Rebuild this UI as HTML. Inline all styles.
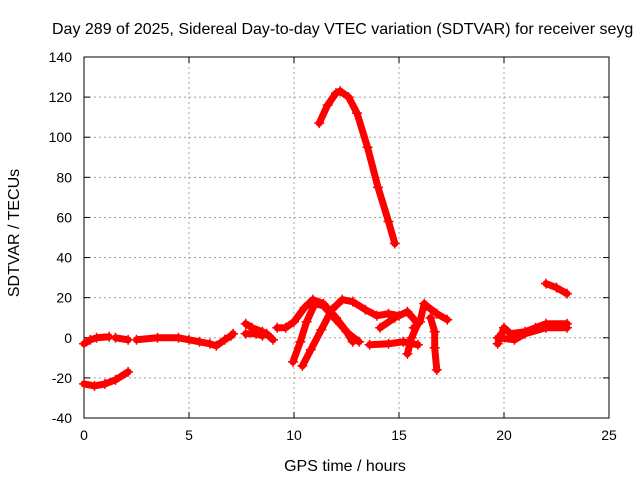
<!DOCTYPE html>
<html><head><meta charset="utf-8">
<style>
body{margin:0;background:#fff}
svg{display:block;font-family:"Liberation Sans",sans-serif}
</style></head><body>
<svg id="chart" width="640" height="480">
<rect width="640" height="480" fill="#fff"/>
<text x="52" y="34" font-size="16">Day 289 of 2025, Sidereal Day-to-day VTEC variation (SDTVAR) for receiver seyg</text>
<g id="grid"></g>
<g id="axes"></g>
<g id="series"></g>
<text x="345" y="471" font-size="16" text-anchor="middle">GPS time / hours</text>
<text transform="translate(19,233) rotate(-90)" font-size="16" text-anchor="middle">SDTVAR / TECUs</text>
</svg>
<script>
const xTicks=[0,5,10,15,20,25];
const yTicks=[-40,-20,0,20,40,60,80,100,120,140];
const s1=[[0,-23],[0.5,-24],[1,-23],[1.5,-21],[2.1,-17]];
const s2=[[0,-3],[0.3,-1],[0.6,0],[1.2,0.5]];
const s3=[[1.5,0],[2.1,-1]];
const s4=[[2.5,-1],[3.5,0],[4.5,0],[5,-1],[5.5,-2],[6,-3],[6.3,-4],[6.7,-1],[7,1],[7.1,2]];
const s5=[[7.7,7],[8,5],[8.5,3],[8.7,2],[9,-1]];
const s6=[[7.7,2],[8.2,2],[8.5,1]];
const s7=[[9.2,5],[9.6,5],[10,8],[10.5,15],[10.9,19],[11.4,17],[12,10],[12.5,3],[12.8,-2]];
const s8=[[9.95,-12],[10.3,-2],[10.6,8],[11,17],[11.4,16],[12,9],[12.6,2],[13.1,-2]];
const s9=[[10.4,-14],[10.8,-6],[11.3,4],[11.8,14],[12.3,19],[12.8,18],[13.4,14],[13.95,11],[14.5,12],[15,11]];
const s10=[[13.6,-3.5],[14.5,-3],[15.2,-2],[15.9,-3.5]];
const s11=[[14.1,5],[14.8,10],[15.4,13],[15.9,7],[15.6,0],[15.4,-8]];
const s12=[[15.7,5],[16,8],[16.2,17]];
const s13=[[16.3,16],[16.8,12],[17.3,9]];
const s14=[[16.5,10],[16.7,3],[16.7,-5],[16.8,-16]];
const s15=[[19.7,-3],[20,5],[20.3,2],[21,3],[21.5,5],[22,7],[23,7]];
const s16=[[19.7,0],[20.5,-1],[21,2],[22,5],[23,5]];
const s17=[[22,27],[22.5,25],[23,22]];
const s18=[[11.2,107],[11.6,116],[12,122],[12.2,123],[12.6,120],[13,112],[13.5,95],[14,75],[14.5,58],[14.8,47]];
const allSeries=[s1,s2,s3,s4,s5,s6,s7,s8,s9,s10,s11,s12,s13,s14,s15,s16,s17,s18];
const NS="http://www.w3.org/2000/svg";
const X0=84,X1=609,Y0=418,Y1=57;
function xs(t){return X0+(t-0)/(25-0)*(X1-X0);}
function ys(v){return Y0-(v+40)/180*(Y0-Y1);}
function mk(tag,attrs,parent){const e=document.createElementNS(NS,tag);for(const k in attrs)e.setAttribute(k,attrs[k]);parent.appendChild(e);return e;}
const grid=document.getElementById('grid'),axes=document.getElementById('axes'),ser=document.getElementById('series');
xTicks.forEach(t=>{
 if(t>0&&t<25){const l=mk('line',{x1:xs(t),x2:xs(t),y1:Y1,y2:Y0,stroke:'#a0a0a0','stroke-dasharray':'2,3'},grid);
 
 }
 mk('line',{x1:xs(t),x2:xs(t),y1:Y0,y2:Y0-6,stroke:'#000'},axes);
 mk('line',{x1:xs(t),x2:xs(t),y1:Y1,y2:Y1+6,stroke:'#000'},axes);
 const tx=mk('text',{x:xs(t),y:Y0+22,'font-size':14,'text-anchor':'middle'},axes);tx.textContent=t;
 
 
});
yTicks.forEach(v=>{
 if(v>-40&&v<140){const l=mk('line',{x1:X0,x2:X1,y1:ys(v),y2:ys(v),stroke:'#a0a0a0','stroke-dasharray':'2,3'},grid);
 
 }
 mk('line',{x1:X0,x2:X0+6,y1:ys(v),y2:ys(v),stroke:'#000'},axes);
 mk('line',{x1:X1,x2:X1-6,y1:ys(v),y2:ys(v),stroke:'#000'},axes);
 const tx=mk('text',{x:X0-12,y:ys(v)+5,'font-size':14,'text-anchor':'end'},axes);tx.textContent=v;
 
 
});
const fr=mk('rect',{x:X0,y:Y1,width:X1-X0,height:Y0-Y1,fill:'none',stroke:'#000'},axes);


allSeries.forEach(s=>{
 const p=mk('polyline',{points:s.map(d=>xs(d[0])+','+ys(d[1])).join(' '),fill:'none',stroke:'#f00','stroke-width':7,'stroke-linejoin':'round','stroke-linecap':'round'},ser);
 
 
 s.forEach(d=>{
  const x=xs(d[0]),y=ys(d[1]);
  const m=mk('path',{d:`M${x-5},${y}h10M${x},${y-5}v10`,stroke:'#f00','stroke-width':1.5},ser);
  
  
 });
});
</script>
</body></html>
